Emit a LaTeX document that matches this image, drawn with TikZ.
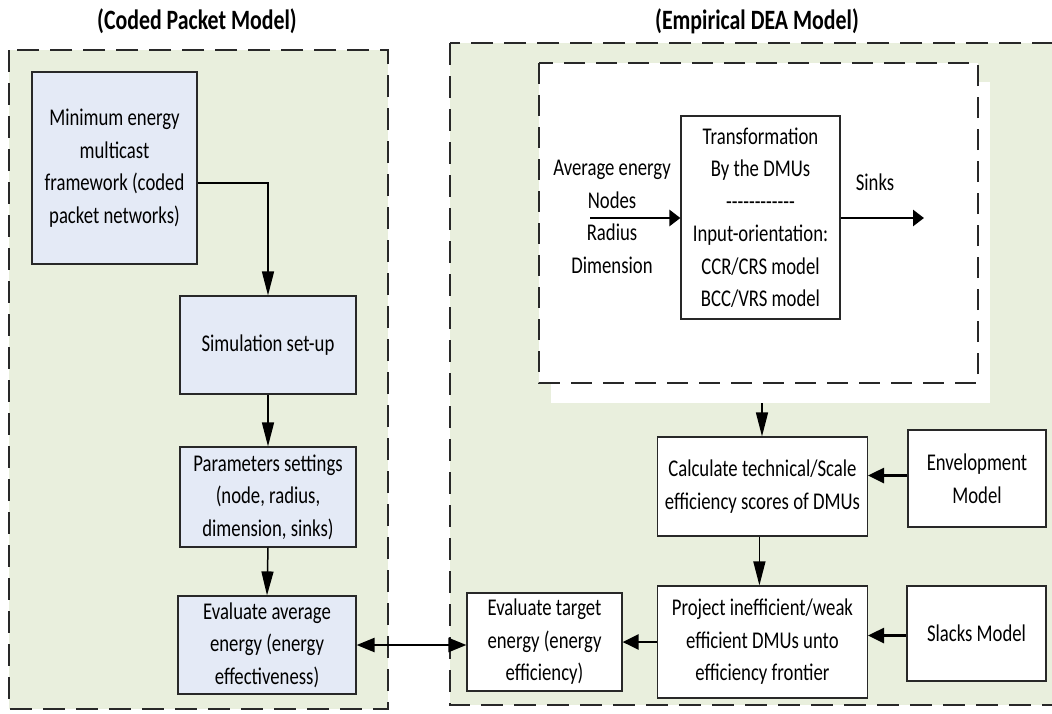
\documentclass[tikz,border=0pt]{standalone}
\usepackage{fontspec}
\setmainfont{Carlito}[FakeStretch=0.78]
\usetikzlibrary{arrows.meta}
\definecolor{panelgreen}{RGB}{233,239,221}
\definecolor{boxblue}{RGB}{228,234,246}
\definecolor{edgegray}{RGB}{40,40,40}
\begin{document}
\begin{tikzpicture}[x=1pt,y=-1pt,
  panel/.style={draw=edgegray, fill=panelgreen, line width=1.6pt, dash pattern=on 22pt off 11pt},
  innerframe/.style={draw=edgegray, fill=white, line width=1.5pt, dash pattern=on 21pt off 11pt},
  txt/.style={font=\fontsize{24}{32.5}\selectfont, align=center, inner sep=2pt},
  title/.style={font=\fontsize{28}{32}\selectfont\bfseries, inner sep=0pt},
  box/.style={txt, draw=edgegray, line width=1.2pt},
  bluebox/.style={box, fill=boxblue},
  whitebox/.style={box, fill=white},
  arrA/.style={line width=1.5pt, -{Triangle[length=24pt,width=12pt]}},
  arrB/.style={line width=2.6pt, -{Triangle[length=16pt,width=15pt]}},
  arrC/.style={line width=2.8pt, -{Triangle[length=11pt,width=16pt]}},
  arrD/.style={line width=2.4pt, {Triangle[length=18pt,width=14pt]}-{Triangle[length=18pt,width=14pt]}}
]
\clip (0,0) rectangle (1052,713);
\fill[white] (0,0) rectangle (1052,713);

% two model panels
\draw[panel] (9,50) rectangle (388,709);
\draw[panel] (450,43) rectangle (1080,705);
\node[title] (tleft) at (197,21) {(Coded Packet Model)};
\node[title] (tright) at (757,21) {(Empirical DEA Model)};

% DMU transformation frame
\fill[white] (551,82) rectangle (990,403);
\draw[innerframe] (539,63) rectangle (978,383);

% coded packet model chain
\node[bluebox, minimum width=165pt, minimum height=192pt] (minen) at (114.5,168)
  {Minimum energy\\multicast\\framework (coded\\packet networks)};
\node[bluebox, minimum width=176pt, minimum height=98pt] (simset) at (268,345)
  {Simulation set-up};
\node[bluebox, minimum width=176pt, minimum height=100pt] (params) at (268,497)
  {Parameters settings\\(node, radius,\\dimension, sinks)};
\node[bluebox, minimum width=178pt, minimum height=98pt] (avgen) at (267,645)
  {Evaluate average\\energy (energy\\effectiveness)};

% empirical DEA model
\node[whitebox, minimum width=159pt, minimum height=203pt] (trans) at (760.5,217.5)
  {Transformation\\By the DMUs\\-{}-{}-{}-{}-{}-{}-{}-{}-{}-{}-{}-\\Input-orientation:\\CCR/CRS model\\BCC/VRS model};
\node[txt] (inputs) at (612,217) {Average energy\\Nodes\\Radius\\Dimension};
\node[txt] (sinks) at (875,182) {Sinks};
\coordinate (instart) at (590,218);
\coordinate (outend) at (924,218);
\coordinate (dmuout) at (762,403);

\node[whitebox, minimum width=210pt, minimum height=99pt] (calc) at (762.4,486.5)
  {Calculate technical/Scale\\efficiency scores of DMUs};
\node[whitebox, minimum width=138pt, minimum height=97pt] (envel) at (977,478.5)
  {Envelopment\\Model};
\node[whitebox, minimum width=210pt, minimum height=112pt] (proj) at (762.4,642)
  {Project inefficient/weak\\efficient DMUs unto\\efficiency frontier};
\node[whitebox, minimum width=139pt, minimum height=95pt] (slacks) at (976.5,633.5)
  {Slacks Model};
\node[whitebox, minimum width=155pt, minimum height=98pt] (target) at (544.5,642)
  {Evaluate target\\energy (energy\\efficiency)};

% connector anchor points
\coordinate (envin) at ([yshift=3pt]envel.west);
\coordinate (slackin) at ([yshift=-2pt]slacks.west);
\coordinate (calcdown) at ([xshift=-3pt]calc.south);

% connectors
\draw[arrA] ([yshift=-15pt]minen.east) -| (simset.north);
\draw[arrA] (simset.south) -- (params.north);
\draw[arrA] (params.south) -- (avgen.north);
\draw[arrC] (instart) -- (trans.west |- instart);
\draw[arrC] (trans.east |- outend) -- (outend);
\draw[arrA] (dmuout) -- (calc.north -| dmuout);
\draw[arrB] (envin) -- (calc.east |- envin);
\draw[arrA] (calcdown) -- (proj.north -| calcdown);
\draw[arrB] (slackin) -- (proj.east |- slackin);
\draw[arrB] (proj.west) -- (target.east |- proj.west);
\draw[arrD] (avgen.east) -- (target.west |- avgen.east);
\end{tikzpicture}
\end{document}
